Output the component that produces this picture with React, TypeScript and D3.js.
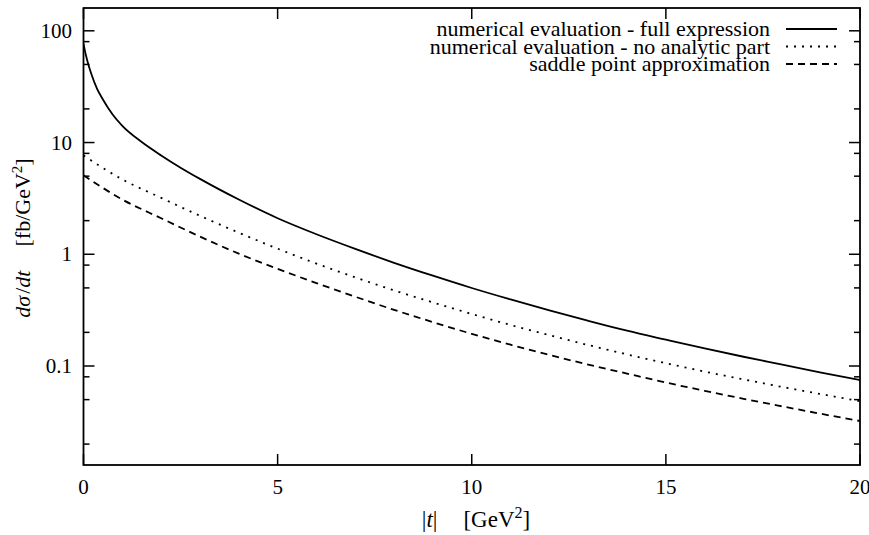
import React from 'react';
import * as d3 from 'd3';

const tFull = [0, 0.05, 0.1, 0.2, 0.35, 0.5, 0.75, 1, 1.5, 2, 2.5, 3, 4, 5, 6, 7, 8, 9, 10, 11, 12, 13, 14, 15, 16, 17, 18, 19, 20];
const fullExpression = [76.9, 63.1, 53.7, 41.2, 30.2, 24.3, 17.8, 14.1, 10.1, 7.67, 5.96, 4.73, 3.09, 2.1, 1.51, 1.117, 0.839, 0.643, 0.499, 0.394, 0.314, 0.254, 0.207, 0.172, 0.1435, 0.121, 0.1028, 0.0873, 0.0748];

const tOther = [0, 1, 2, 3, 4, 5, 6, 7, 8, 9, 10, 11, 12, 13, 14, 15, 16, 17, 18, 19, 20];
const noAnalytic = [7.67, 4.68, 3.2, 2.21, 1.56, 1.122, 0.826, 0.621, 0.475, 0.371, 0.292, 0.233, 0.189, 0.154, 0.127, 0.106, 0.0891, 0.0759, 0.0649, 0.056, 0.0484];
const saddlePoint = [5.09, 3.09, 2.1, 1.439, 1.012, 0.741, 0.552, 0.417, 0.318, 0.247, 0.194, 0.155, 0.1256, 0.103, 0.0855, 0.0711, 0.06, 0.0509, 0.0435, 0.0373, 0.0322];

const xTicks = [0, 5, 10, 15, 20];
const yMajorTicks = [0.1, 1, 10, 100];
const yTickLabels = ['0.1', '1', '10', '100'];
const yMinorTicks = [0.02, 0.05, 0.08, 0.2, 0.5, 0.8, 2, 5, 8, 20, 50, 80];

const legendLabels = [
  'numerical evaluation - full expression',
  'numerical evaluation - no analytic part',
  'saddle point approximation',
];

const W = 869, H = 535;
const L = 83.5, R = 860, T = 8, B = 465;
const FONT = "'Liberation Serif', 'Times New Roman', 'DejaVu Serif', serif";
const txt = { fontFamily: FONT } as React.CSSProperties;

export default function App() {
  const x = d3.scaleLinear().domain([0, 20]).range([L, R]);
  const y = d3.scaleLog().domain([0.013, 160]).range([B, T]);

  const mk = (ts: number[], vs: number[]) =>
    d3.line<number>()
      .x((_, i) => x(ts[i]))
      .y((v) => y(v))
      .curve(d3.curveMonotoneX)(vs) || '';

  const series = [
    { d: mk(tFull, fullExpression), dash: undefined as string | undefined },
    { d: mk(tOther, noAnalytic), dash: '2,6' },
    { d: mk(tOther, saddlePoint), dash: '7,5' },
  ];

  const majorLen = 11, minorLen = 6;
  const legendRowY = [29, 46.5, 64];

  return (
    <svg width={W} height={H} style={{ position: 'absolute', left: 0, top: 0, background: '#fff' }}>
      <rect x={0} y={0} width={W} height={H} fill="#fff" />
      <defs>
        <clipPath id="plotclip">
          <rect x={L} y={T} width={R - L} height={B - T} />
        </clipPath>
      </defs>
      <g clipPath="url(#plotclip)">
        {series.map((s, i) => (
          <path key={i} d={s.d} fill="none" stroke="#000" strokeWidth={1.8} strokeDasharray={s.dash} />
        ))}
      </g>
      <rect x={L} y={T} width={R - L} height={B - T} fill="none" stroke="#000" strokeWidth={1.8} />
      {xTicks.map((t) => (
        <g key={'x' + t}>
          <line x1={x(t)} x2={x(t)} y1={B} y2={B - majorLen} stroke="#000" strokeWidth={1.5} />
          <line x1={x(t)} x2={x(t)} y1={T} y2={T + majorLen} stroke="#000" strokeWidth={1.5} />
          <text x={x(t)} y={494} textAnchor="middle" fontSize={21} style={txt}>{t}</text>
        </g>
      ))}
      {yMajorTicks.map((v, i) => (
        <g key={'y' + v}>
          <line x1={L} x2={L + majorLen} y1={y(v)} y2={y(v)} stroke="#000" strokeWidth={1.5} />
          <line x1={R} x2={R - majorLen} y1={y(v)} y2={y(v)} stroke="#000" strokeWidth={1.5} />
          <text x={72} y={y(v) + 7} textAnchor="end" fontSize={21} style={txt}>{yTickLabels[i]}</text>
        </g>
      ))}
      {yMinorTicks.map((v) => (
        <g key={'m' + v}>
          <line x1={L} x2={L + minorLen} y1={y(v)} y2={y(v)} stroke="#000" strokeWidth={1.5} />
          <line x1={R} x2={R - minorLen} y1={y(v)} y2={y(v)} stroke="#000" strokeWidth={1.5} />
        </g>
      ))}
      {legendLabels.map((lab, i) => (
        <g key={'l' + i}>
          <text x={770} y={legendRowY[i] + 7} textAnchor="end" fontSize={22} style={txt}>{lab}</text>
          <line x1={786} x2={837} y1={legendRowY[i]} y2={legendRowY[i]} stroke="#000" strokeWidth={1.8} strokeDasharray={series[i].dash} />
        </g>
      ))}
      <text x={476} y={527} textAnchor="middle" fontSize={23} style={txt}>
        <tspan>|</tspan><tspan fontStyle="italic">t</tspan><tspan>|</tspan>
        <tspan dx={26}>[GeV</tspan><tspan fontSize={16} dy={-9}>2</tspan><tspan dy={9}>]</tspan>
      </text>
      <text transform={`translate(30,238) rotate(-90)`} textAnchor="middle" fontSize={22} style={txt}>
        <tspan fontStyle="italic">dσ</tspan><tspan dx={2}>/</tspan><tspan fontStyle="italic">dt</tspan>
        <tspan dx={24}>[fb/GeV</tspan><tspan fontSize={15} dy={-8}>2</tspan><tspan dy={8}>]</tspan>
      </text>
    </svg>
  );
}
